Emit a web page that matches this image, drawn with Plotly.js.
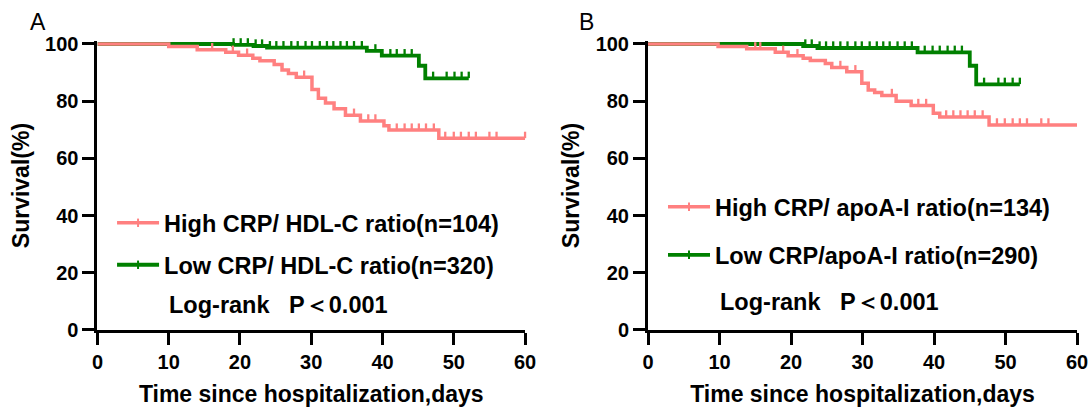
<!DOCTYPE html>
<html>
<head>
<meta charset="utf-8">
<script src="https://cdn.plot.ly/plotly-3.0.1.min.js"></script>
<style>
  html, body { margin: 0; padding: 0; background: #ffffff; }
  #chart { width: 1090px; height: 408px; }
</style>
</head>
<body>
<div id="chart"></div>
<script>
// ---------------- DATA ----------------
// Panel A: CRP / HDL-C ratio
const aHighTimes = [0, 10, 14, 18, 19.8, 21.8, 22.8, 24.8, 25.9, 26.8, 27.9, 30.1, 31, 32, 33.2, 34.8, 36.9, 40.2, 40.9, 47.9, 60];
const aHighSurv  = [100, 99.1, 98, 97.1, 96.1, 95, 94.1, 92.8, 90.9, 89.7, 88.4, 84.1, 81, 79.4, 77.4, 75.1, 73.1, 71.4, 69.9, 67, 67];
const aHighCensor = [16.1, 19, 21, 29, 36, 38, 39, 42, 43.1, 44.1, 45.1, 46.1, 47.2, 48.8, 50, 51, 52.1, 53.1, 55, 56, 60];

const aLowTimes = [0, 19, 21.9, 23.8, 37.8, 39.9, 45.1, 46, 52.1];
const aLowSurv  = [100, 99.7, 99.3, 98.7, 97.6, 95.9, 92.4, 88.0, 88.0];
const aLowCensor = [10, 10.9, 12, 13, 14.1, 15.1, 16.2, 17.1, 18.2, 19.1, 20.1, 21.1, 22.2, 23.1, 24.2, 25.1, 26.1, 27.2, 28.1, 29.2, 30.1, 31.2, 32.2, 33.1, 34.1, 35, 36, 37.1, 39, 41.1, 42, 43.1, 44.1, 47.1, 49, 50.1, 51.1, 52.1];

// Panel B: CRP / apoA-I ratio
const bHighTimes = [0, 9.8, 13.8, 17.8, 19.6, 21.7, 22.7, 24.8, 25.7, 27.8, 29.9, 30.8, 31.7, 32.7, 34.7, 36.8, 39.9, 40.8, 47.7, 60];
const bHighSurv  = [100, 99.1, 98.3, 97.1, 95.9, 95, 94.2, 93.2, 91.8, 90.3, 86.3, 83.9, 83, 82, 80, 78.5, 75.8, 74.5, 71.7, 71.7];
const bHighCensor = [15, 15.7, 18.9, 20.9, 26.9, 29, 34.1, 37.8, 38.9, 41.7, 42.7, 43.7, 44.7, 45.7, 46.8, 48.8, 49.9, 51, 52, 53, 55, 56];

const bLowTimes = [0, 21.7, 23.7, 37.7, 45, 45.9, 52];
const bLowSurv  = [100, 99.3, 98.6, 97.1, 92.4, 85.9, 85.9];
const bLowCensor = [9.8, 10.8, 11.8, 12.9, 13.9, 14.5, 15.6, 16.8, 17.9, 18.9, 19.9, 20.9, 22, 22.9, 24, 24.9, 25.9, 26.9, 27.9, 29, 29.9, 31, 32, 32.9, 33.8, 34.9, 35.9, 36.9, 38.7, 39.8, 40.8, 41.9, 42.9, 43.9, 47, 49, 49.9, 51, 52];

const xTickVals = [0, 10, 20, 30, 40, 50, 60];
const yTickVals = [0, 20, 40, 60, 80, 100];

const labelsA = ['High CRP/ HDL-C ratio(n=104)', 'Low CRP/ HDL-C ratio(n=320)'];
const labelsB = ['High CRP/ apoA-I ratio(n=134)', 'Low CRP/apoA-I ratio(n=290)'];
const statText = 'Log-rank\u00a0\u00a0\u00a0P\uFF1C0.001';
const xTitle = 'Time since hospitalization,days';
const yTitle = 'Survival(%)';

// ---------------- STYLE ----------------
const PINK = '#FF8080';
const GREEN = '#008000';
const FONT = 'Liberation Sans, Arial, Helvetica, sans-serif';
const TICK_LIFT = 1.2; // censor ticks drawn upward from the curve (hidden overlay axis offset)

function stepValue(t, times, surv) {
  let v = surv[0];
  for (let i = 0; i < times.length; i++) { if (times[i] <= t) v = surv[i]; }
  return v;
}

function curve(times, surv, color, width, xa, ya) {
  return { type: 'scatter', mode: 'lines', x: times, y: surv, xaxis: xa, yaxis: ya,
           line: { shape: 'hv', color: color, width: width }, showlegend: false, hoverinfo: 'skip' };
}
function censors(cTimes, times, surv, color, xa, ya) {
  return { type: 'scatter', mode: 'markers', x: cTimes, y: cTimes.map(t => stepValue(t, times, surv)),
           xaxis: xa, yaxis: ya, cliponaxis: false, showlegend: false, hoverinfo: 'skip',
           marker: { symbol: 'line-ns', size: 4.6, color: color, line: { color: color, width: 2.3 } } };
}
function legendEntry(name, color, width, xa, ya, legendId) {
  return { type: 'scatter', mode: 'lines+markers', x: [null], y: [null], xaxis: xa, yaxis: ya,
           name: name, legend: legendId, showlegend: true,
           line: { color: color, width: width },
           marker: { symbol: 'line-ns', size: 6, color: color, line: { color: color, width: 2 } } };
}

const traces = [
  curve(aLowTimes, aLowSurv, GREEN, 3.8, 'x', 'y'),
  censors(aLowCensor, aLowTimes, aLowSurv, GREEN, 'x', 'y3'),
  curve(aHighTimes, aHighSurv, PINK, 3.5, 'x', 'y'),
  censors(aHighCensor, aHighTimes, aHighSurv, PINK, 'x', 'y3'),
  curve(bLowTimes, bLowSurv, GREEN, 3.8, 'x2', 'y2'),
  censors(bLowCensor, bLowTimes, bLowSurv, GREEN, 'x2', 'y4'),
  curve(bHighTimes, bHighSurv, PINK, 3.5, 'x2', 'y2'),
  censors(bHighCensor, bHighTimes, bHighSurv, PINK, 'x2', 'y4'),
  legendEntry(labelsA[0], PINK, 3.5, 'x', 'y', 'legend'),
  legendEntry(labelsA[1], GREEN, 3.8, 'x', 'y', 'legend2'),
  legendEntry(labelsB[0], PINK, 3.5, 'x2', 'y2', 'legend3'),
  legendEntry(labelsB[1], GREEN, 3.8, 'x2', 'y2', 'legend4')
];

const tickFont = { family: FONT, size: 20, color: '#000', weight: 'bold' };
const titleFont = { family: FONT, size: 23, color: '#000', weight: 'bold' };
const legFont = { family: FONT, size: 23.5, color: '#000', weight: 'bold' };

function xAxis(domain, anchor) {
  return { domain: domain, anchor: anchor, range: [0, 60], tickvals: xTickVals,
           showline: true, linecolor: '#000', linewidth: 3, ticks: 'outside', ticklen: 12, tickwidth: 3, tickcolor: '#000',
           showgrid: false, zeroline: false, tickfont: tickFont,
           title: { text: xTitle, font: titleFont, standoff: 14 } };
}
function yAxis(anchor) {
  return { domain: [0.19118, 0.8992], anchor: anchor, range: [0, 101], tickvals: yTickVals,
           showline: true, linecolor: '#000', linewidth: 3, ticks: 'outside', ticklen: 12, tickwidth: 3, tickcolor: '#000',
           showgrid: false, zeroline: false, tickfont: tickFont,
           title: { text: yTitle, font: titleFont, standoff: 10 } };
}
function overlayAxis(over, anchor) {
  return { overlaying: over, anchor: anchor, range: [-TICK_LIFT, 101 - TICK_LIFT], visible: false };
}
function leg(x, y) {
  return { x: x, y: y, xref: 'paper', yref: 'paper', xanchor: 'left', yanchor: 'middle',
           bgcolor: 'rgba(0,0,0,0)', borderwidth: 0, font: legFont, itemwidth: 42, itemclick: false, itemdoubleclick: false };
}

const layout = {
  width: 1090, height: 408,
  margin: { l: 0, r: 0, t: 0, b: 0 },
  paper_bgcolor: '#ffffff', plot_bgcolor: '#ffffff',
  font: { family: FONT, color: '#000' },
  showlegend: true,
  xaxis: xAxis([0.0894, 0.4817], 'y'),
  yaxis: yAxis('x'),
  xaxis2: xAxis([0.5945, 0.9881], 'y2'),
  yaxis2: yAxis('x2'),
  yaxis3: overlayAxis('y', 'x'),
  yaxis4: overlayAxis('y2', 'x2'),
  legend: leg(0.1028, 0.4534),
  legend2: leg(0.1028, 0.3505),
  legend3: leg(663 / 1090, 0.4926),
  legend4: leg(663 / 1090, 0.375),
  annotations: [
    { text: 'A', x: 38 / 1090, y: 1 - 22 / 408, xref: 'paper', yref: 'paper', showarrow: false,
      xanchor: 'center', yanchor: 'middle', font: { family: FONT, size: 23, color: '#000' } },
    { text: 'B', x: 586 / 1090, y: 1 - 22 / 408, xref: 'paper', yref: 'paper', showarrow: false,
      xanchor: 'center', yanchor: 'middle', font: { family: FONT, size: 23, color: '#000' } },
    { text: statText, x: 167 / 1090, y: 1 - 305 / 408, xref: 'paper', yref: 'paper', showarrow: false,
      xanchor: 'left', yanchor: 'middle', font: legFont },
    { text: statText, x: 718 / 1090, y: 1 - 302 / 408, xref: 'paper', yref: 'paper', showarrow: false,
      xanchor: 'left', yanchor: 'middle', font: legFont }
  ]
};

Plotly.newPlot('chart', traces, layout, { displayModeBar: false, staticPlot: true });
</script>
</body>
</html>
